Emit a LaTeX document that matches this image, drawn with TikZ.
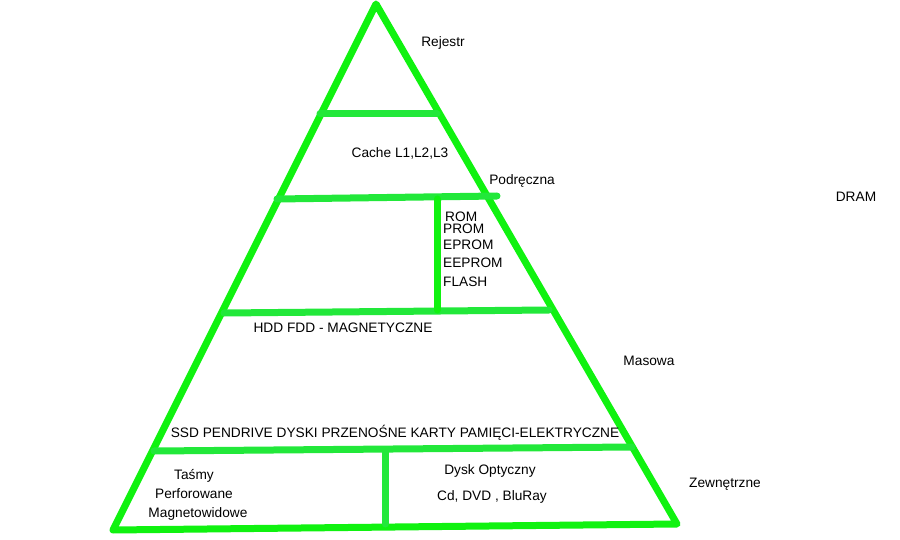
\documentclass[tikz,border=0pt]{standalone}
\usepackage{fontspec}
\setmainfont{Liberation Sans}
\usepackage{tikz}
\usetikzlibrary{positioning,calc}
\definecolor{sidegreen}{RGB}{16,242,16}
\definecolor{bargreen}{RGB}{34,232,58}
\tikzset{
  side/.style={draw=sidegreen, line width=7pt, line cap=round, line join=round},
  bar/.style={draw=bargreen, line width=7pt, line cap=round},
  lbl/.style={font=\fontsize{13.7}{16}\selectfont, inner sep=0pt},
  memlbl/.style={lbl, anchor=west},
}

\begin{document}
\begin{tikzpicture}[x=1pt, y=-1pt]
  \useasboundingbox (0,0) rectangle (900,540);

  % pyramid corners
  \coordinate (apex) at (376,4);
  \coordinate (bl) at (113,530);
  \coordinate (br) at (677,524);

  % level borders
  \coordinate (c1l) at (320,114);  \coordinate (c1r) at (437,114);
  \coordinate (c2l) at (277,199);  \coordinate (c2r) at (497,196);
  \coordinate (c3l) at (224,313);  \coordinate (c3r) at (549,310);
  \coordinate (c4l) at (154,451);  \coordinate (c4r) at (632,447);
  \coordinate (romt) at (437,199); \coordinate (romb) at (437,310);
  \coordinate (tapt) at (385,450); \coordinate (tapb) at (385,524);

  % Outline
  \draw[side] (bl) -- (apex) -- (br) -- (bl);

  % Horizontal bars
  \draw[bar] (c1l) -- (c1r);
  \draw[bar] (c2l) -- (c2r);
  \draw[bar] (c3l) -- (c3r);
  \draw[bar] (c4l) -- (c4r);

  % Vertical dividers
  \draw[side] (romt) -- (romb);
  \draw[bar] (tapt) -- (tapb);

  % Labels outside
  \node[lbl] (rej) at (443,43) {Rejestr};
  \node[lbl] (pod) at (522,181) {Podręczna};
  \node[lbl] (dram) at (856,197) {DRAM};
  \node[lbl] (mas) at (649,361) {Masowa};
  \node[lbl] (zew) at (725,484) {Zewnętrzne};

  % Labels inside
  \node[lbl] (cache) at (400,153) {Cache L1,L2,L3};
  \node[memlbl] (rom) at (445,217) {ROM};
  \node[memlbl] (prom) at (443,229) {PROM};
  \node[memlbl] (eprom) at (443,245) {EPROM};
  \node[memlbl] (eeprom) at (443,263) {EEPROM};
  \node[memlbl] (flash) at (443,282) {FLASH};
  \node[lbl] (hdd) at (343,328) {HDD FDD - MAGNETYCZNE};
  \node[lbl] (ssd) at (395,433) {SSD PENDRIVE DYSKI PRZENOŚNE KARTY PAMIĘCI-ELEKTRYCZNE};
  \node[lbl] (tasmy) at (194,476) {Taśmy};
  \node[lbl] (perf) at (194,494) {Perforowane};
  \node[lbl] (magn) at (198,514) {Magnetowidowe};
  \node[lbl] (dysk) at (490,471) {Dysk Optyczny};
  \node[lbl] (cd) at (492,497) {Cd, DVD , BluRay};
\end{tikzpicture}
\end{document}
